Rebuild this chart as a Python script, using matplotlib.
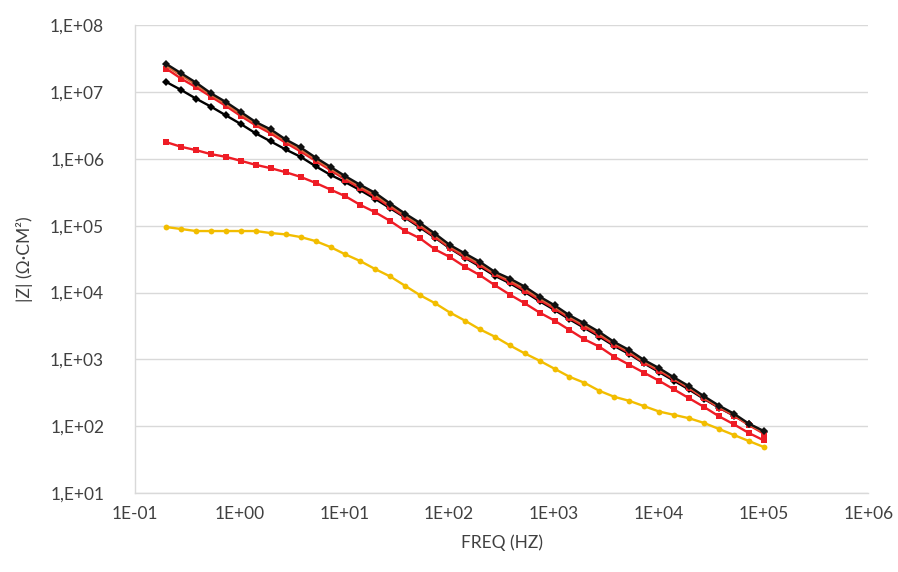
import numpy as np
import matplotlib
matplotlib.use("Agg")
import matplotlib.pyplot as plt
from matplotlib.ticker import FixedLocator, FuncFormatter, NullLocator

# frequencies (Hz), 7 points per decade from 0.2 Hz to 100 kHz
freq = [0.2, 0.2777, 0.3855, 0.5352, 0.743, 1.031, 1.432, 1.988, 2.76, 3.831,
        5.319, 7.385, 10.25, 14.23, 19.76, 27.43, 38.08, 52.87, 73.4, 101.9,
        141.5, 196.4, 272.7, 378.5, 525.5, 729.5, 1013, 1406, 1952, 2710,
        3762, 5223, 7251, 10070, 13980, 19400, 26930, 37390, 51910, 72060, 100000]

# log10 |Z|
black_top = [7.42, 7.28, 7.14, 6.98, 6.85, 6.70, 6.55, 6.44, 6.29, 6.17,
             6.02, 5.88, 5.74, 5.61, 5.49, 5.33, 5.18, 5.04, 4.88, 4.71,
             4.585, 4.46, 4.31, 4.21, 4.09, 3.94, 3.81, 3.66, 3.54, 3.41,
             3.26, 3.14, 2.99, 2.87, 2.73, 2.60, 2.45, 2.31, 2.19, 2.04, 1.93]
orange_mid = [7.39, 7.25, 7.11, 6.96, 6.82, 6.67, 6.53, 6.41, 6.27, 6.14,
              5.995, 5.855, 5.715, 5.585, 5.46, 5.305, 5.155, 5.015, 4.855, 4.69,
              4.56, 4.435, 4.29, 4.185, 4.06, 3.915, 3.785, 3.64, 3.515, 3.385,
              3.24, 3.12, 2.97, 2.85, 2.715, 2.585, 2.435, 2.295, 2.175, 2.03, 1.91]
red_top = [7.35, 7.20, 7.07, 6.93, 6.79, 6.64, 6.50, 6.38, 6.24, 6.11,
           5.97, 5.83, 5.69, 5.56, 5.43, 5.28, 5.13, 4.99, 4.83, 4.67,
           4.53, 4.41, 4.27, 4.16, 4.03, 3.89, 3.76, 3.62, 3.49, 3.36,
           3.22, 3.10, 2.95, 2.83, 2.70, 2.57, 2.42, 2.28, 2.16, 2.02, 1.89]
black_low = [7.15, 7.03, 6.90, 6.78, 6.65, 6.52, 6.38, 6.26, 6.14, 6.03,
             5.89, 5.76, 5.65, 5.53, 5.40, 5.26, 5.12, 4.97, 4.82, 4.66,
             4.52, 4.39, 4.25, 4.14, 4.01, 3.87, 3.74, 3.60, 3.47, 3.34,
             3.20, 3.08, 2.94, 2.81, 2.68, 2.55, 2.41, 2.28, 2.16, 2.03, 1.91]
red_low = [6.25, 6.18, 6.13, 6.07, 6.03, 5.97, 5.91, 5.86, 5.80, 5.73,
           5.64, 5.54, 5.44, 5.31, 5.20, 5.07, 4.92, 4.81, 4.645, 4.53,
           4.385, 4.26, 4.11, 3.97, 3.84, 3.70, 3.58, 3.44, 3.30, 3.19,
           3.04, 2.92, 2.80, 2.68, 2.55, 2.42, 2.29, 2.15, 2.03, 1.90, 1.79]
yellow = [4.98, 4.95, 4.92, 4.92, 4.92, 4.92, 4.92, 4.89, 4.87, 4.83,
          4.77, 4.68, 4.57, 4.47, 4.35, 4.24, 4.10, 3.96, 3.84, 3.70,
          3.58, 3.45, 3.34, 3.21, 3.09, 2.98, 2.86, 2.74, 2.65, 2.53,
          2.44, 2.38, 2.30, 2.22, 2.17, 2.12, 2.05, 1.96, 1.87, 1.78, 1.69]

x_ticks = [1e-1, 1e0, 1e1, 1e2, 1e3, 1e4, 1e5, 1e6]
y_ticks = [1e1, 1e2, 1e3, 1e4, 1e5, 1e6, 1e7, 1e8]

plt.rcParams['font.family'] = ['Lato', 'DejaVu Sans']

fig = plt.figure(figsize=(8.98, 5.72), dpi=100)
ax = fig.add_axes([0.150, 0.138, 0.817, 0.818])

series = [
    (yellow, '#f2bd00', 'o', 4.2),
    (red_low, '#ee1c25', 's', 3.8),
    (black_low, '#000000', 'D', 3.8),
    (red_top, '#ee1c25', 's', 3.8),
    (orange_mid, '#d8653a', 'o', 2.2),
    (black_top, '#111111', 'D', 3.8),
]
f = np.array(freq)
for vals, col, mk, ms in series:
    ax.plot(f, 10 ** np.array(vals), color=col, lw=1.7, marker=mk, ms=ms,
            markeredgewidth=0)

ax.set_xscale('log')
ax.set_yscale('log')
ax.set_xlim(1e-1, 1e6)
ax.set_ylim(1e1, 1e8)

ax.xaxis.set_major_locator(FixedLocator(x_ticks))
ax.yaxis.set_major_locator(FixedLocator(y_ticks))
ax.xaxis.set_minor_locator(NullLocator())
ax.yaxis.set_minor_locator(NullLocator())
ax.xaxis.set_major_formatter(FuncFormatter(lambda v, p: '1E%+03d' % round(np.log10(v))))
ax.yaxis.set_major_formatter(FuncFormatter(lambda v, p: '1,E%+03d' % round(np.log10(v))))

ax.grid(axis='y', color='#d9d9d9', lw=1)
ax.set_axisbelow(True)
for s in ['top', 'right']:
    ax.spines[s].set_visible(False)
for s in ['left', 'bottom']:
    ax.spines[s].set_color('#d9d9d9')
    ax.spines[s].set_linewidth(1)

ax.tick_params(axis='both', length=0, labelsize=12.5, labelcolor='#404040')
ax.tick_params(axis='y', pad=22)
ax.tick_params(axis='x', pad=9)

ax.set_xlabel('FREQ (HZ)', fontsize=12.5, color='#404040', labelpad=9)
ax.set_ylabel('|Z| (Ω·CM²)', fontsize=12.5, color='#404040', labelpad=12)

fig.savefig('out.png', dpi=100, facecolor='white')
